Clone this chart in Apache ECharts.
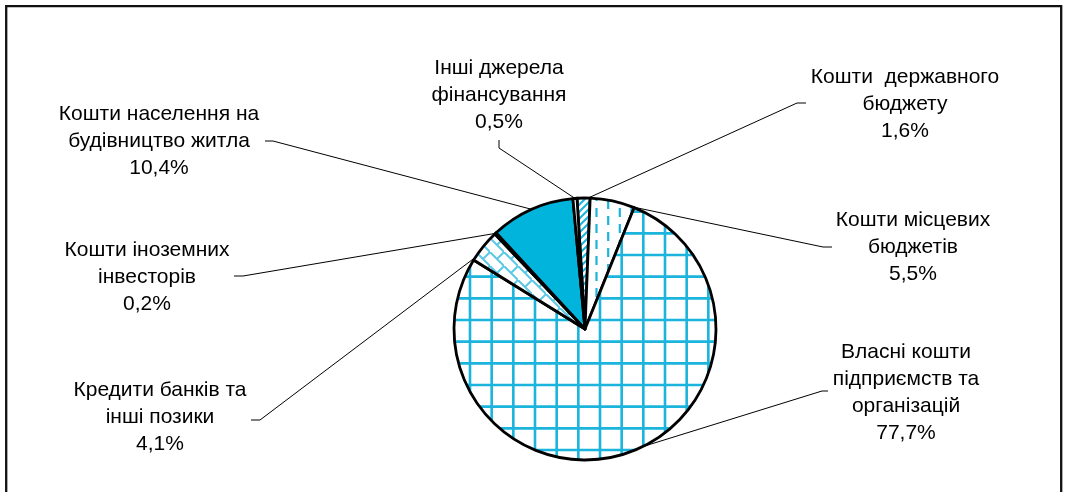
<!DOCTYPE html>
<html>
<head>
<meta charset="utf-8">
<script src="https://cdn.jsdelivr.net/npm/echarts@6/dist/echarts.min.js"></script>
<style>
html,body{margin:0;padding:0;background:#fff}
#main{width:1068px;height:492px}
</style>
</head>
<body>
<div id="main"></div>
<script>
var names = [
  'Кошти  державного\nбюджету',
  'Кошти місцевих\nбюджетів',
  'Власні кошти\nпідприємств та\nорганізацій',
  'Кредити банків та\nінші позики',
  'Кошти іноземних\nінвесторів',
  'Кошти населення на\nбудівництво житла',
  'Інші джерела\nфінансування'
];
var values = [1.6, 5.5, 77.7, 4.1, 0.2, 10.4, 0.5];

// label block centres and leader line elbows
var labelPos   = [[905,104.5],[913,247],[906,392.5],[160,417.5],[147,277],[159,141],[499,95]];
var leaderEnd  = [[806,103],[832,247],[828,391],[251,420],[234,276],[265,141],[499,140]];
var leaderBend = [[797,103],[823,247],[822,391],[260,420],[243,276],[273,141],[499,148]];
var anchorShift = [2, 9, -8, -6, 0, 0, 0]; // degrees, where leader touches the arc

var CX = 585, CY = 329;
var CYAN = '#1ab4dc';

function tile(w, h, draw){
  var c = document.createElement('canvas');
  c.width = w; c.height = h;
  var ctx = c.getContext('2d');
  ctx.fillStyle = '#fff';
  ctx.fillRect(0,0,w,h);
  ctx.strokeStyle = CYAN;
  draw(ctx);
  return {image: c, repeat: 'repeat'};
}

var gridFill = tile(65, 65, function(ctx){
  ctx.lineWidth = 2.6;
  ctx.beginPath();
  [15, 36.67, 58.33].forEach(function(x){ ctx.moveTo(x,0); ctx.lineTo(x,65); });
  [16.67, 38.33, 60].forEach(function(y){ ctx.moveTo(0,y); ctx.lineTo(65,y); });
  ctx.stroke();
});

var dashFill = tile(35, 16, function(ctx){
  ctx.lineWidth = 2.2;
  ctx.beginPath();
  [1.5, 13.2, 24.8].forEach(function(x, i){
    var off = i % 2 ? 8 : 0;
    ctx.moveTo(x, off); ctx.lineTo(x, off + 9);
    ctx.moveTo(x, off - 16); ctx.lineTo(x, off - 7);
  });
  ctx.stroke();
});

var diagFill = tile(7, 7, function(ctx){
  ctx.lineWidth = 2;
  ctx.beginPath();
  ctx.moveTo(-1,8); ctx.lineTo(8,-1);
  ctx.moveTo(-1,1); ctx.lineTo(1,-1);
  ctx.moveTo(6,8); ctx.lineTo(8,6);
  ctx.stroke();
});

var trellisFill = tile(14, 14, function(ctx){
  ctx.strokeStyle = '#5cc8e6';
  ctx.lineWidth = 2;
  ctx.beginPath();
  ctx.moveTo(-1,-1); ctx.lineTo(15,15);
  ctx.moveTo(7,7); ctx.lineTo(14,0);
  ctx.moveTo(0,14); ctx.lineTo(-7,21);
  ctx.stroke();
});

var fills = [diagFill, dashFill, gridFill, trellisFill, '#fff', '#00b4dc', '#fff'];

function fmt(v){ return v.toFixed(1).replace('.', ','); }

var chart = echarts.init(document.getElementById('main'));

chart.setOption({
  animation: false,
  backgroundColor: '#fff',
  graphic: [{
    type: 'rect',
    silent: true,
    shape: {x: 6.2, y: 6.2, width: 1055, height: 600},
    style: {fill: 'none', stroke: '#111', lineWidth: 2.3}
  }],
  series: [{
    type: 'pie',
    center: [CX, CY],
    radius: 131,
    startAngle: 93.5,
    clockwise: true,
    silent: true,
    avoidLabelOverlap: false,
    itemStyle: {borderColor: '#000', borderWidth: 2.8},
    label: {
      show: true,
      position: 'outside',
      color: '#000',
      fontFamily: 'Liberation Sans, Arial',
      fontSize: 21,
      lineHeight: 27,
      align: 'center',
      formatter: function(p){ return p.name + '\n' + fmt(p.value) + '%'; }
    },
    labelLine: {show: true, lineStyle: {color: '#000', width: 1}},
    labelLayout: function(p){
      var i = p.dataIndex;
      var a = p.labelLinePoints ? p.labelLinePoints[0] : [CX, CY];
      var t = anchorShift[i] * Math.PI / 180;
      var dx = a[0] - CX, dy = a[1] - CY;
      var s = [CX + dx*Math.cos(t) - dy*Math.sin(t), CY + dx*Math.sin(t) + dy*Math.cos(t)];
      return {
        x: labelPos[i][0],
        y: labelPos[i][1],
        align: 'center',
        verticalAlign: 'middle',
        labelLinePoints: [s, leaderBend[i], leaderEnd[i]]
      };
    },
    data: names.map(function(n, i){
      return {name: n, value: values[i], itemStyle: {color: fills[i]}};
    })
  }]
});
</script>
</body>
</html>
